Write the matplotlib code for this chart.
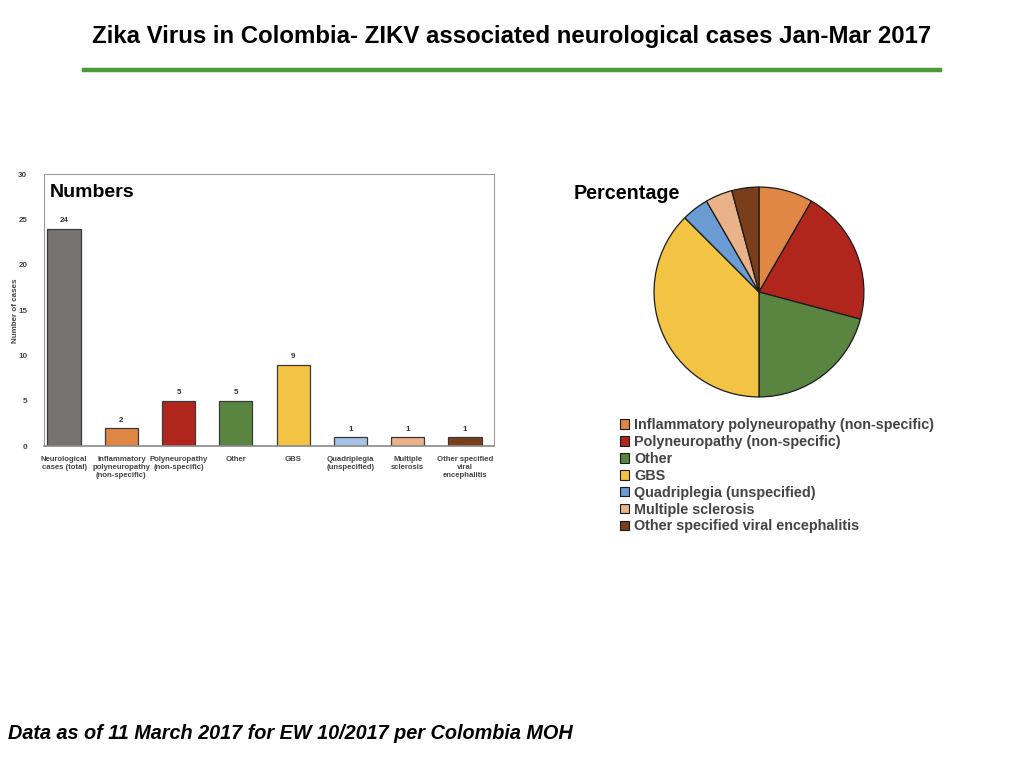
import matplotlib
matplotlib.use('Agg')
import matplotlib.pyplot as plt
from matplotlib.lines import Line2D
from matplotlib.patches import Patch

plt.rcParams['font.family'] = ['Liberation Sans', 'DejaVu Sans']

# bar chart data
bar_labels = ['Neurological\ncases (total)', 'Inflammatory\npolyneuropathy\n(non-specific)',
              'Polyneuropathy\n(non-specific)', 'Other', 'GBS',
              'Quadriplegia\n(unspecified)', 'Multiple\nsclerosis',
              'Other specified\nviral\nencephalitis']
bar_values = [24, 2, 5, 5, 9, 1, 1, 1]
bar_colors = ['#767370', '#e08745', '#b0261d', '#5a8540', '#f3c444',
              '#a6c3e6', '#e9b289', '#7a3f1a']

# pie data
pie_labels = ['Inflammatory polyneuropathy (non-specific)', 'Polyneuropathy (non-specific)',
              'Other', 'GBS', 'Quadriplegia (unspecified)', 'Multiple sclerosis',
              'Other specified viral encephalitis']
pie_values = [2, 5, 5, 9, 1, 1, 1]
pie_colors = ['#e08745', '#b0261d', '#5a8540', '#f3c444', '#6a9bd3', '#e9b289', '#7a3f1a']

fig = plt.figure(figsize=(10.24, 7.68), dpi=100)

# title + green rule
fig.text(0.5, 0.952, 'Zika Virus in Colombia- ZIKV associated neurological cases Jan-Mar 2017',
         ha='center', va='center', fontsize=17.3, fontweight='bold')
fig.add_artist(Line2D([0.082, 0.918], [0.909, 0.909], color='#4a9a35', lw=3.2))

# bars
ax = fig.add_axes([0.043, 0.419, 0.439, 0.354])
x = range(len(bar_values))
ax.bar(x, bar_values, width=0.58, color=bar_colors, edgecolor='#3a3a3a', linewidth=0.9, zorder=2)
for i, v in zip(x, bar_values):
    ax.text(i, v + 0.5, str(v), ha='center', va='bottom', fontsize=5.8, color='#333333',
            fontweight='bold')
ax.set_xlim(-0.35, 7.5)
ax.set_ylim(0, 30)
ax.set_yticks(range(0, 31, 5))
ax.set_xticks(list(x))
ax.set_xticklabels(bar_labels, fontsize=5.6, color='#444444', fontweight='bold', linespacing=1.25)
ax.tick_params(axis='y', labelsize=5.8, labelcolor='#444444', length=0, pad=12)
ax.tick_params(axis='x', length=0, pad=7)
for lab in ax.get_yticklabels():
    lab.set_fontweight('bold')
for s in ['top', 'right', 'left']:
    ax.spines[s].set_color('#9a9a9a')
    ax.spines[s].set_linewidth(0.8)
ax.spines['bottom'].set_color('#8a8a8a')
ax.spines['bottom'].set_linewidth(1.2)
ax.set_ylabel('Number of cases', fontsize=5.8, color='#444444', fontweight='bold')
ax.yaxis.set_label_coords(-0.056, 0.5)
ax.text(0.013, 0.935, 'Numbers', transform=ax.transAxes, fontsize=14, fontweight='bold',
        va='center', ha='left')

# pie
pax = fig.add_axes([0.6377, 0.4818, 0.2070, 0.2760])
pax.pie(pie_values, colors=pie_colors, startangle=90, counterclock=False,
        wedgeprops=dict(edgecolor='#1a1a1a', linewidth=0.9))
pax.set_xlim(-1.01, 1.01)
pax.set_ylim(-1.01, 1.01)
pax.set_aspect('equal')
fig.text(0.560, 0.748, 'Percentage', fontsize=14.2, fontweight='bold', va='center', ha='left')

handles = [Patch(facecolor=c, edgecolor='#1a1a1a', linewidth=0.8) for c in pie_colors]
fig.legend(handles, pie_labels, loc='upper left', bbox_to_anchor=(0.598, 0.465),
           frameon=False, labelspacing=0.2, handlelength=0.65, handleheight=0.65,
           handletextpad=0.35, borderpad=0, prop={'weight': 'bold', 'size': 10.4},
           labelcolor='#444444')

# footer
fig.text(0.008, 0.045, 'Data as of 11 March 2017 for EW 10/2017 per Colombia MOH',
         fontsize=14.3, fontweight='bold', style='italic', va='center', ha='left')

fig.savefig('out.png', dpi=100)
